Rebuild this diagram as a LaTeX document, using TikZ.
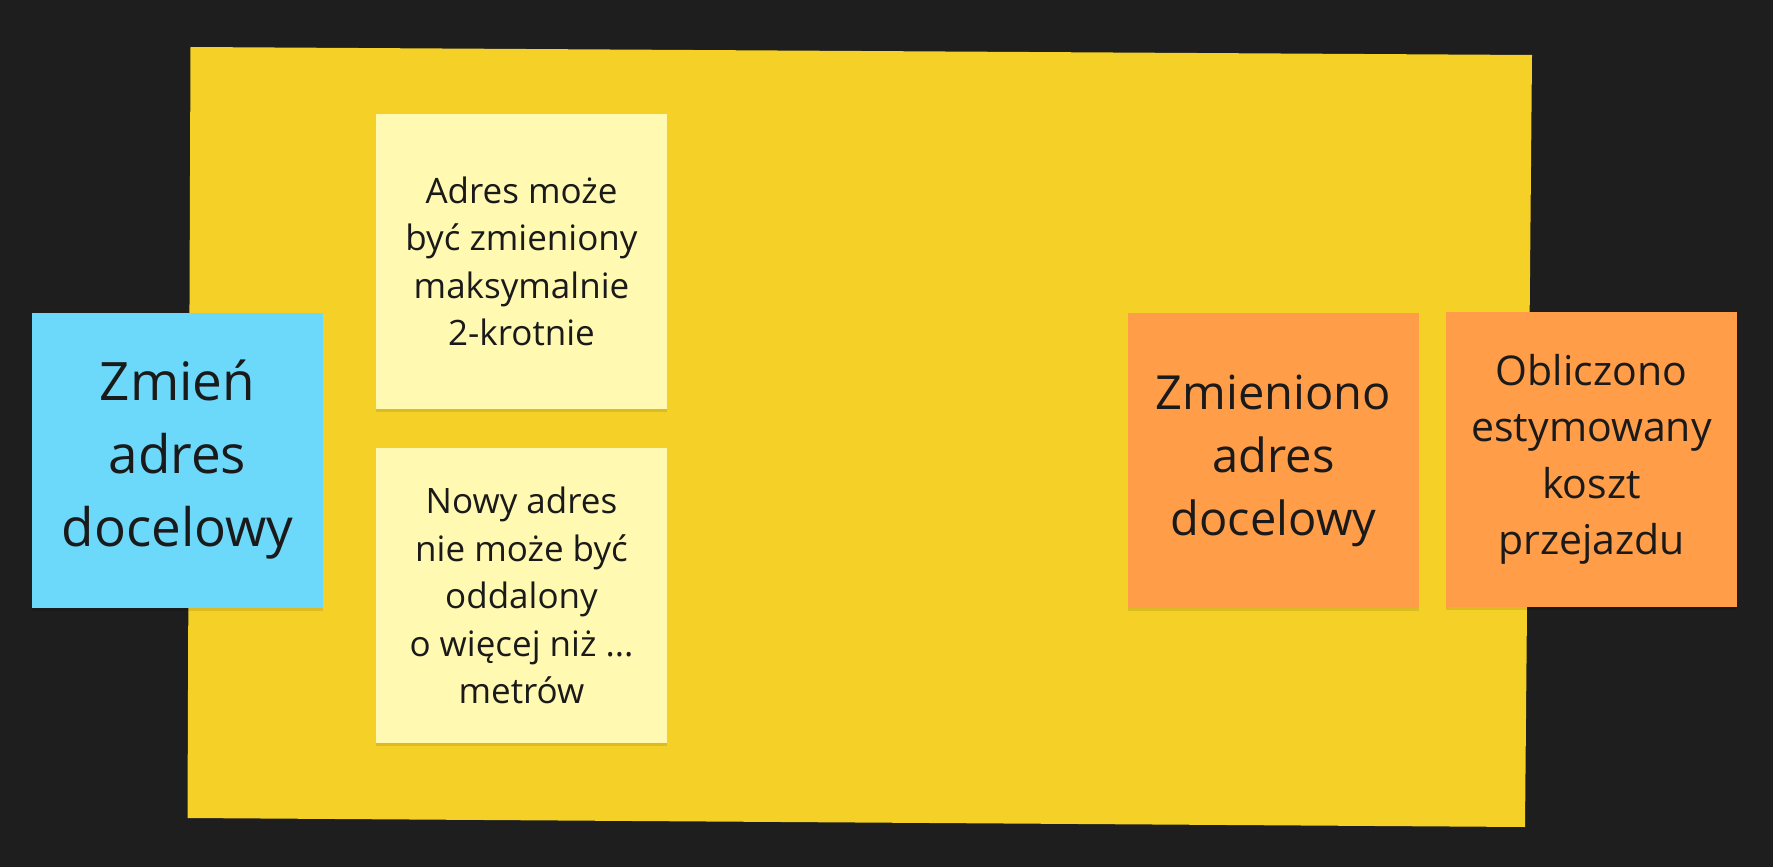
\documentclass[tikz,border=0pt]{standalone}
\usepackage{fontspec}
\setmainfont{Open Sans}
\usetikzlibrary{shadows}
\definecolor{bgdark}{HTML}{1E1E1E}
\definecolor{bigyellow}{HTML}{F5D128}
\definecolor{lightyellow}{HTML}{FFF9B1}
\definecolor{skyblue}{HTML}{6CD8FA}
\definecolor{stickyorange}{HTML}{FF9D48}
\definecolor{inktext}{HTML}{1A1A1A}
\tikzset{
  sticky/.style={rectangle, inner sep=0pt, align=center, text=inktext,
    minimum width=291pt, minimum height=295pt,
    drop shadow={shadow xshift=0pt, shadow yshift=-3pt, opacity=0.10, fill=black}},
  cmdsticky/.style={sticky, fill=skyblue, font=\fontsize{53}{73}\selectfont},
  rulesticky/.style={sticky, fill=lightyellow, font=\fontsize{35}{47.5}\selectfont},
  evsticky/.style={sticky, fill=stickyorange},
}
\begin{document}
\begin{tikzpicture}[x=1pt,y=-1pt]
\useasboundingbox (0,0) rectangle (1773,867);
\fill[bgdark] (0,0) rectangle (1773,867);
% large aggregate sticky
\fill[bigyellow] (190.5,47) -- (1532,55) -- (1525,827) -- (187.5,818) -- cycle;
% command
\node[cmdsticky] (cmd) at (177.5,460) {Zmień\\adres\\docelowy};
% rules
\node[rulesticky] (rule1) at (521.5,261.5) {Adres może\\być zmieniony\\maksymalnie\\2-krotnie};
\node[rulesticky] (rule2) at (521.5,595.5) {Nowy adres\\nie może być\\oddalony\\o więcej niż ...\\metrów};
% events
\node[evsticky, font=\fontsize{47}{63}\selectfont] (ev1) at (1273.5,460.5) {Zmieniono\\adres\\docelowy};
\node[evsticky, font=\fontsize{41}{56.5}\selectfont] (ev2) at (1591.5,459.5) {Obliczono\\estymowany\\koszt\\przejazdu};
\end{tikzpicture}
\end{document}
